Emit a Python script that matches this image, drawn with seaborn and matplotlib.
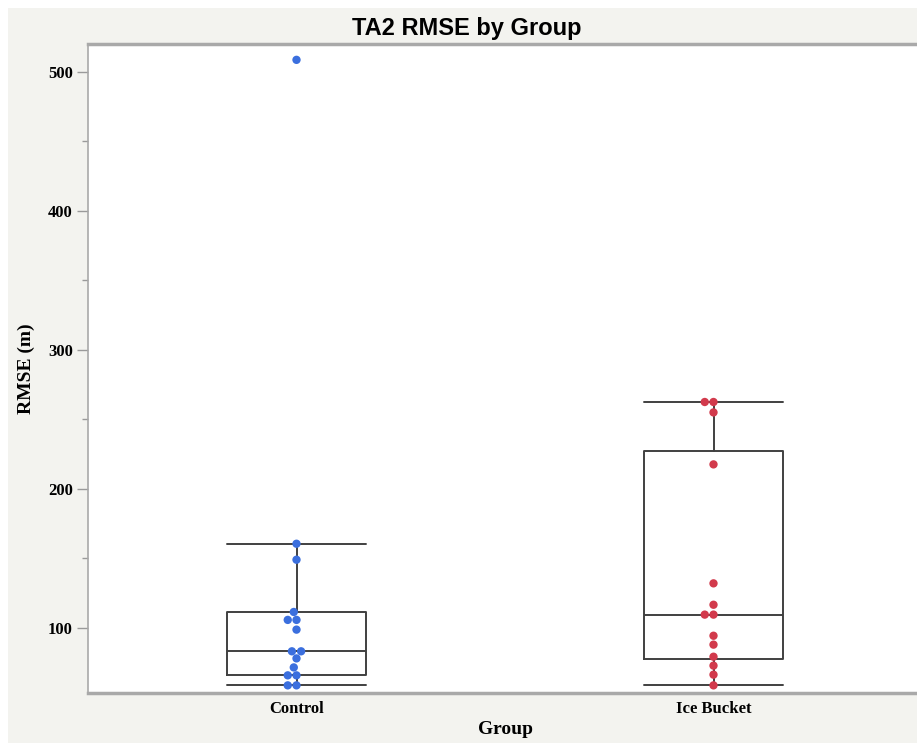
import numpy as np
import pandas as pd
import matplotlib
matplotlib.use("Agg")
import matplotlib.pyplot as plt
from matplotlib.patches import Rectangle
import seaborn as sns

# RMSE values (m) per participant
groups = ["Control", "Ice Bucket"]
control_rmse = [508.6, 160.4, 148.9, 111.3, 105.6, 105.6, 98.6, 83.0, 83.0,
                77.9, 71.4, 65.7, 65.7, 58.5, 58.5]
ice_rmse = [262.4, 262.4, 254.9, 217.5, 131.9, 116.5, 109.4, 109.4, 94.2,
            87.8, 79.1, 72.7, 66.2, 58.5]
y_ticks = [100, 200, 300, 400, 500]
point_colors = ["#3b6fde", "#d23a4c"]

df = pd.DataFrame({
    "Group": ["Control"] * len(control_rmse) + ["Ice Bucket"] * len(ice_rmse),
    "RMSE": control_rmse + ice_rmse,
})

sns.set_style("white")
plt.rcParams["text.color"] = "black"
plt.rcParams["axes.labelcolor"] = "black"
plt.rcParams["xtick.color"] = "black"
plt.rcParams["ytick.color"] = "black"
serif = ["Liberation Serif", "DejaVu Serif"]

fig = plt.figure(figsize=(9.17, 7.43), dpi=100, facecolor="white")
fig.patches.append(Rectangle((8 / 917, 0), 1, 1 - 8 / 743, transform=fig.transFigure,
                             facecolor="#f3f3ef", edgecolor="none", zorder=-10))
ax = fig.add_axes([88 / 917, 50 / 743, 834 / 917, 649 / 743])
ax.set_facecolor("white")


def box_stats(values, label):
    v = np.asarray(values)
    q1, med, q3 = np.percentile(v, [25, 50, 75], method="weibull")
    iqr = q3 - q1
    lo = v[v >= q1 - 1.5 * iqr].min()
    hi = v[v <= q3 + 1.5 * iqr].max()
    return dict(label=label, q1=q1, med=med, q3=q3, whislo=lo, whishi=hi, fliers=[])


stats = [box_stats(control_rmse, "Control"), box_stats(ice_rmse, "Ice Bucket")]
line_kw = dict(color="#404040", linewidth=1.4)
ax.bxp(stats, positions=[0, 1], widths=0.333, showfliers=False,
       boxprops=line_kw, medianprops=line_kw, whiskerprops=line_kw,
       capprops=line_kw, capwidths=0.333, manage_ticks=False, zorder=2)

sns.swarmplot(data=df, x="Group", y="RMSE", hue="Group", order=groups,
              palette=point_colors, size=6, legend=False, ax=ax, zorder=3)

ax.set_xlim(-0.5, 1.5)
ax.set_ylim(53, 520)
ax.set_yticks(y_ticks)
ax.set_yticks([150, 250, 350, 450], minor=True)
ax.set_xticks([0, 1])
ax.set_xticklabels(groups, fontfamily=serif, fontweight="bold", fontsize=12,
                   color="black")
ax.set_yticklabels([str(t) for t in y_ticks], fontfamily=serif,
                   fontweight="bold", fontsize=12, color="black")
ax.tick_params(axis="y", which="major", direction="out", length=8, width=1,
               color="#9a9a9a", left=True, pad=3)
ax.tick_params(axis="y", which="minor", direction="out", length=4, width=1,
               color="#9a9a9a", left=True)
ax.tick_params(axis="x", which="both", bottom=False, pad=2)

for name, sp in ax.spines.items():
    sp.set_color("#a9a9a9")
    sp.set_linewidth(1.2)
ax.spines["top"].set_linewidth(2.5)
ax.spines["bottom"].set_linewidth(2.5)
ax.spines["right"].set_visible(False)

ax.set_xlabel("Group", fontfamily=serif, fontweight="bold", fontsize=14,
              labelpad=3, color="black")
ax.set_ylabel("RMSE (m)", fontfamily=serif, fontweight="bold", fontsize=14,
              labelpad=9, color="black")
fig.text(467 / 917, 1 - 28 / 743, "TA2 RMSE by Group", ha="center", va="center",
         fontfamily=["Liberation Sans", "DejaVu Sans"], fontweight="bold",
         fontsize=17, color="black")

fig.savefig("out.png", dpi=100, facecolor=fig.get_facecolor())
